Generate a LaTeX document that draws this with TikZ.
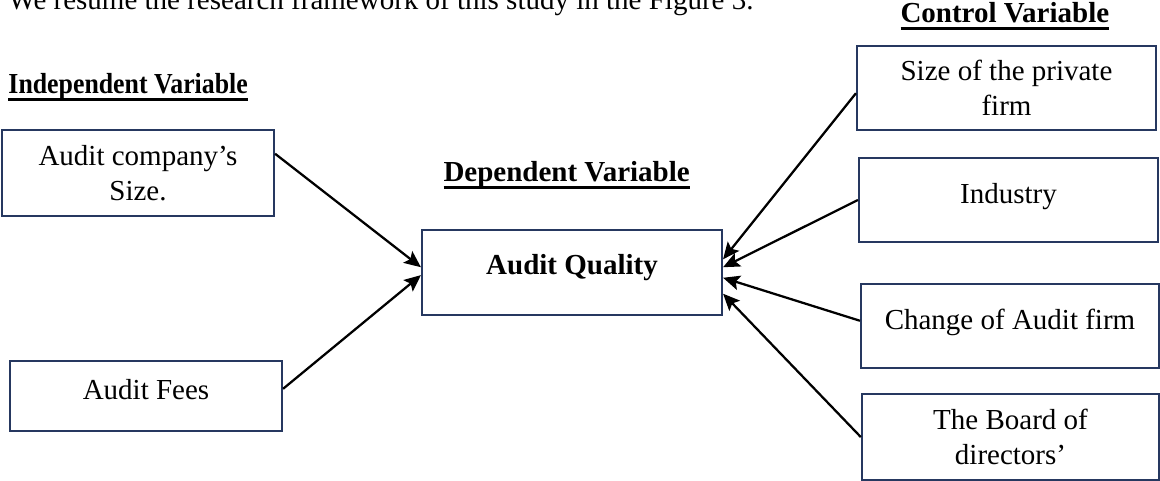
\documentclass[tikz,border=0pt]{standalone}
\usepackage{fontspec}
\setmainfont{Liberation Serif}
\usepackage{graphicx}
\usetikzlibrary{arrows.meta}

\definecolor{boxnavy}{RGB}{38,56,96}
\newcommand{\thickul}[1]{\begingroup\setbox0\hbox{#1}\dimen0=\wd0\copy0\kern-\dimen0\raisebox{-5pt}{\rule{\dimen0}{1.7pt}}\endgroup}

\tikzset{every picture/.style={line width=0.75pt}}
\tikzset{
  varbox/.style={draw=boxnavy, line width=1.6pt, align=center, inner sep=0.75pt,
    font=\fontsize{21.75}{26}\selectfont},
  oneline/.style={text height=14.8pt, text depth=10pt},
  heading/.style={anchor=base west, inner sep=0pt, font=\fontsize{21.75}{26}\selectfont\bfseries},
  link/.style={-{Stealth[length=12.5pt,width=11pt,inset=2.5pt]}, line width=1.7pt}
}

\begin{document}
\begin{tikzpicture}[x=0.75pt,y=0.75pt,yscale=-1,xscale=1]
%set diagram left start at 0, and has height of 481
\useasboundingbox (0,0) rectangle (1160,481);

% Text Node
\node (intro) at (8,10) [anchor=base west, inner sep=0pt, font=\fontsize{21.75}{26}\selectfont] {We resume the research framework of this study in the Figure 3.};
% Text Node
\node (indephead) at (8,94) [heading] {\scalebox{0.89}[1]{\thickul{Independent Variable}}};
% Text Node
\node (dephead) at (443,182) [heading] {\thickul{Dependent Variable}};
% Text Node
\node (ctrlhead) at (900,23) [heading] {\thickul{Control Variable}};

%Shape: Rectangle [id:csize]
\node (csize) at (138,173) [varbox, minimum width=204pt, minimum height=64.5pt] {Audit company’s\\Size.};
%Shape: Rectangle [id:fees]
\node (fees) at (146,396) [varbox, oneline, minimum width=204pt, minimum height=52.5pt] {Audit Fees};
%Shape: Rectangle [id:quality]
\node (quality) at (572,272.5) [varbox, text height=14.8pt, text depth=12pt, minimum width=225pt, minimum height=63.75pt, font=\fontsize{21.75}{26}\selectfont\bfseries] {Audit Quality};
%Shape: Rectangle [id:firmsize]
\node (firmsize) at (1006.5,88) [varbox, minimum width=224.25pt, minimum height=63pt] {Size of the private\\firm};
%Shape: Rectangle [id:industry]
\node (industry) at (1008.5,200) [varbox, oneline, minimum width=224.25pt, minimum height=63pt] {Industry};
%Shape: Rectangle [id:change]
\node (change) at (1010,326) [varbox, oneline, minimum width=223.5pt, minimum height=63pt] {Change of Audit firm};
%Shape: Rectangle [id:board]
\node (board) at (1010.5,437) [varbox, minimum width=223pt, minimum height=64.5pt] {The Board of\\directors’};

%Straight Lines
\draw [link] (csize.8) -- (quality.178);
\draw [link] (fees.3) -- (quality.181);
\draw [link] (firmsize.182) -- (quality.5);
\draw [link] (industry.west) -- (quality.2);
\draw [link] (change.178) -- (quality.-2);
\draw [link] (board.west) -- (quality.-8);

\end{tikzpicture}
\end{document}
